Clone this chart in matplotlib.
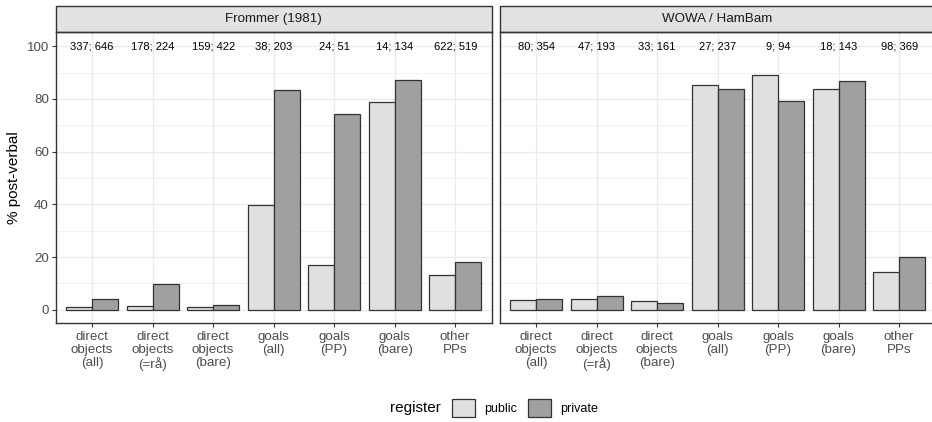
import numpy as np
import matplotlib
matplotlib.use("Agg")
from matplotlib import pyplot as plt
from matplotlib.patches import Patch, Rectangle

plt.rcParams['font.family'] = ['Liberation Sans', 'DejaVu Sans']

categories = ["direct\nobjects\n(all)", "direct\nobjects\n(=rå)", "direct\nobjects\n(bare)",
              "goals\n(all)", "goals\n(PP)", "goals\n(bare)", "other\nPPs"]
panels = ["Frommer (1981)", "WOWA / HamBam"]

frommer_public = [1.0, 1.4, 1.0, 39.6, 16.9, 78.8, 13.2]
frommer_private = [4.0, 9.6, 1.8, 83.2, 74.2, 87.3, 18.1]
wowa_public = [3.8, 4.2, 3.3, 85.3, 89.0, 83.7, 14.5]
wowa_private = [4.2, 5.4, 2.5, 83.7, 79.1, 86.8, 20.2]

frommer_n = ["337; 646", "178; 224", "159; 422", "38; 203", "24; 51", "14; 134", "622; 519"]
wowa_n = ["80; 354", "47; 193", "33; 161", "27; 237", "9; 94", "18; 143", "98; 369"]

registers = ["public", "private"]
fills = {"public": "#E0E0E0", "private": "#A0A0A0"}
edge = "#333333"
W, H = 932, 422

fig = plt.figure(figsize=(W / 100, H / 100), dpi=100)

panel_w = 435.7
bottom = 1 - 322.7 / H
height = (322.7 - 31.7) / H
strip_h = 25.7 / (322.7 - 31.7)

data = [(frommer_public, frommer_private, frommer_n),
        (wowa_public, wowa_private, wowa_n)]
lefts = [55.8, 499.7]

x = np.arange(len(categories))
bw = 0.43

for i, (pub, priv, ns) in enumerate(data):
    ax = fig.add_axes([lefts[i] / W, bottom, panel_w / W, height])
    ax.set_xlim(-0.6, 6.6)
    ax.set_ylim(-4.9, 105.5)
    ax.set_yticks([0, 20, 40, 60, 80, 100])
    ax.set_yticks([10, 30, 50, 70, 90], minor=True)
    ax.grid(True, which='major', color='#EBEBEB', lw=1.0)
    ax.grid(True, which='minor', axis='y', color='#EBEBEB', lw=0.5)
    ax.set_axisbelow(True)
    ax.bar(x - bw / 2, pub, width=bw, color=fills["public"], edgecolor=edge, lw=0.9)
    ax.bar(x + bw / 2, priv, width=bw, color=fills["private"], edgecolor=edge, lw=0.9)
    for xi, lab in zip(x, ns):
        ax.text(xi, 100, lab, ha='center', va='center', fontsize=8, color='black')
    ax.set_xticks(x)
    ax.set_xticklabels(categories, linespacing=1.12)
    ax.tick_params(axis='both', which='major', length=3, color='#333333',
                   labelcolor='#4D4D4D', labelsize=9.6, width=0.8)
    ax.tick_params(axis='y', which='minor', length=0)
    ax.tick_params(axis='x', pad=3)
    ax.tick_params(axis='y', pad=2)
    for sp in ax.spines.values():
        sp.set_color('#333333')
        sp.set_linewidth(1.0)
    if i == 0:
        ax.set_ylabel("% post-verbal", fontsize=11, labelpad=4)
    else:
        ax.set_yticklabels([])
        ax.tick_params(axis='y', length=0)
    # facet strip
    ax.add_patch(Rectangle((0, 1), 1, strip_h, transform=ax.transAxes,
                           facecolor='#E2E2E2', edgecolor='#333333', lw=1.0,
                           clip_on=False))
    ax.text(0.5, 1 + strip_h / 2, panels[i], transform=ax.transAxes,
            ha='center', va='center', fontsize=9.6, color='#1A1A1A')

handles = [Patch(facecolor=fills[r], edgecolor='#333333', lw=0.9) for r in registers]
fig.legend(handles, registers, loc='center left', bbox_to_anchor=(452 / W, 1 - 408 / H),
           ncol=2, frameon=False, fontsize=9, handlelength=1.85, handleheight=1.85,
           handletextpad=0.7, columnspacing=0.9, borderaxespad=0, borderpad=0)
fig.text(390 / W, 1 - 408 / H, "register", fontsize=11, ha='left', va='center')

fig.savefig("out.png", dpi=100)
